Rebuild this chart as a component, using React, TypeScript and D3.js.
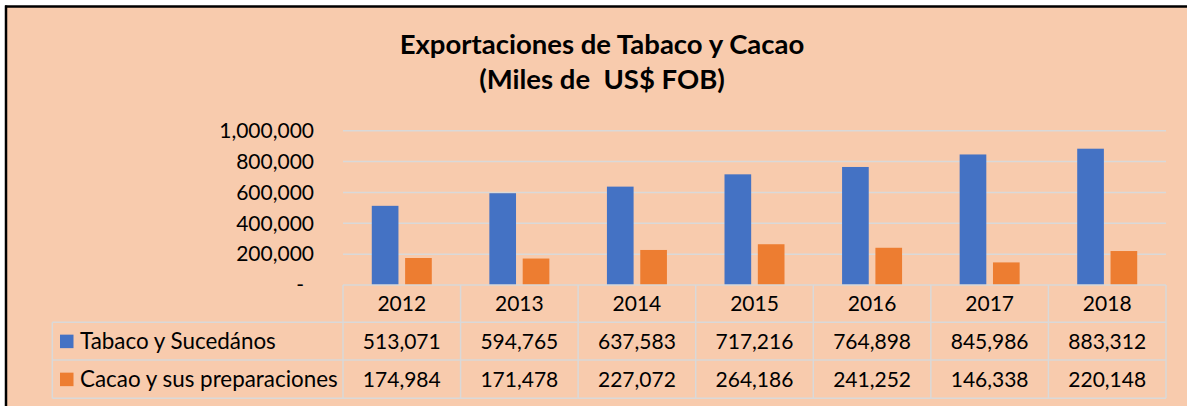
import React from "react";
import * as d3 from "d3";

const years = ["2012", "2013", "2014", "2015", "2016", "2017", "2018"];
const seriesNames = ["Tabaco y Sucedános", "Cacao y sus preparaciones"];
const tabaco = [513071, 594765, 637583, 717216, 764898, 845986, 883312];
const cacao = [174984, 171478, 227072, 264186, 241252, 146338, 220148];
const yTicks = [0, 200000, 400000, 600000, 800000, 1000000];
const colors = ["#4472C4", "#ED7D31"];
const titleLines = ["Exportaciones de Tabaco y Cacao", "(Miles de  US$ FOB)"];

const W = 1187;
const H = 406;
const FONT = "Lato, 'Open Sans', sans-serif";

export default function App() {
  const series = [tabaco, cacao];
  const x = d3.scaleBand<string>().domain(years).range([343, 1166]).padding(0);
  const y = d3.scaleLinear().domain([0, 1000000]).range([285, 130.7]);
  const clusterW = 60;
  const inner = d3
    .scaleBand<number>()
    .domain([0, 1])
    .range([-clusterW / 2, clusterW / 2])
    .paddingInner(0.2);
  const fmt = d3.format(",");
  const grid = "#D9D9D9";
  const rowLines = [285, 322.3, 360, 398.3];
  const tableLeft = 52.3;

  return (
    <svg
      width={W}
      height={H}
      style={{ position: "absolute", left: 0, top: 0 }}
      fontFamily={FONT}
    >
      <rect x={0} y={0} width={W} height={H} fill="#ffffff" />
      <rect x={6} y={7} width={W - 6} height={H - 7} fill="#F8CBAD" />
      <line x1={6} y1={5.5} x2={6} y2={H} stroke="#000" strokeWidth={2.5} />
      <line x1={5} y1={6.5} x2={W} y2={6.5} stroke="#000" strokeWidth={2.5} />

      {titleLines.map((t, i) => (
        <text
          key={i}
          x={602}
          y={53.5 + i * 35}
          textAnchor="middle"
          fontWeight="bold"
          fontSize={27.5}
          fill="#000"
          style={{ whiteSpace: "pre" }}
        >
          {t}
        </text>
      ))}

      {yTicks.filter((v) => v > 0).map((v) => (
        <line key={v} x1={343} x2={1166} y1={y(v)} y2={y(v)} stroke={grid} strokeWidth={1.5} />
      ))}
      {yTicks.map((v) => (
        <text
          key={"t" + v}
          x={v === 0 ? 304 : 314}
          y={y(v)}
          dy="0.35em"
          textAnchor="end"
          fontSize={21}
          fill="#000"
        >
          {v === 0 ? "-" : fmt(v)}
        </text>
      ))}

      {years.map((yr, i) =>
        series.map((s, k) => (
          <rect
            key={yr + k}
            x={(x(yr) as number) + x.bandwidth() / 2 + (inner(k) as number)}
            y={y(s[i])}
            width={inner.bandwidth()}
            height={y(0) - y(s[i])}
            fill={colors[k]}
          />
        ))
      )}

      {/* table lines */}
      <line x1={343} x2={1166} y1={rowLines[0]} y2={rowLines[0]} stroke={grid} strokeWidth={1.5} />
      {rowLines.slice(1).map((ly, i) => (
        <line key={"r" + i} x1={tableLeft} x2={1166} y1={ly} y2={ly} stroke={grid} strokeWidth={1.5} />
      ))}
      <line x1={tableLeft} x2={tableLeft} y1={rowLines[1]} y2={rowLines[3]} stroke={grid} strokeWidth={1.5} />
      {years.map((yr) => (
        <line
          key={"v" + yr}
          x1={x(yr) as number}
          x2={x(yr) as number}
          y1={rowLines[0]}
          y2={rowLines[3]}
          stroke={grid}
          strokeWidth={1.5}
        />
      ))}
      <line x1={1166} x2={1166} y1={rowLines[0]} y2={rowLines[3]} stroke={grid} strokeWidth={1.5} />

      {years.map((yr) => (
        <text
          key={"h" + yr}
          x={(x(yr) as number) + x.bandwidth() / 2}
          y={(rowLines[0] + rowLines[1]) / 2}
          dy="0.35em"
          textAnchor="middle"
          fontSize={21}
          fill="#000"
        >
          {yr}
        </text>
      ))}

      {series.map((s, k) => {
        const cy = (rowLines[k + 1] + rowLines[k + 2]) / 2;
        return (
          <g key={"row" + k}>
            <rect x={60} y={cy - 6.5} width={13.5} height={13.5} fill={colors[k]} />
            <text x={80} y={cy} dy="0.35em" fontSize={22.4} fill="#000">
              {seriesNames[k]}
            </text>
            {years.map((yr, i) => (
              <text
                key={yr}
                x={(x(yr) as number) + x.bandwidth() / 2}
                y={cy}
                dy="0.35em"
                textAnchor="middle"
                fontSize={21}
                fill="#000"
              >
                {fmt(s[i])}
              </text>
            ))}
          </g>
        );
      })}
    </svg>
  );
}
